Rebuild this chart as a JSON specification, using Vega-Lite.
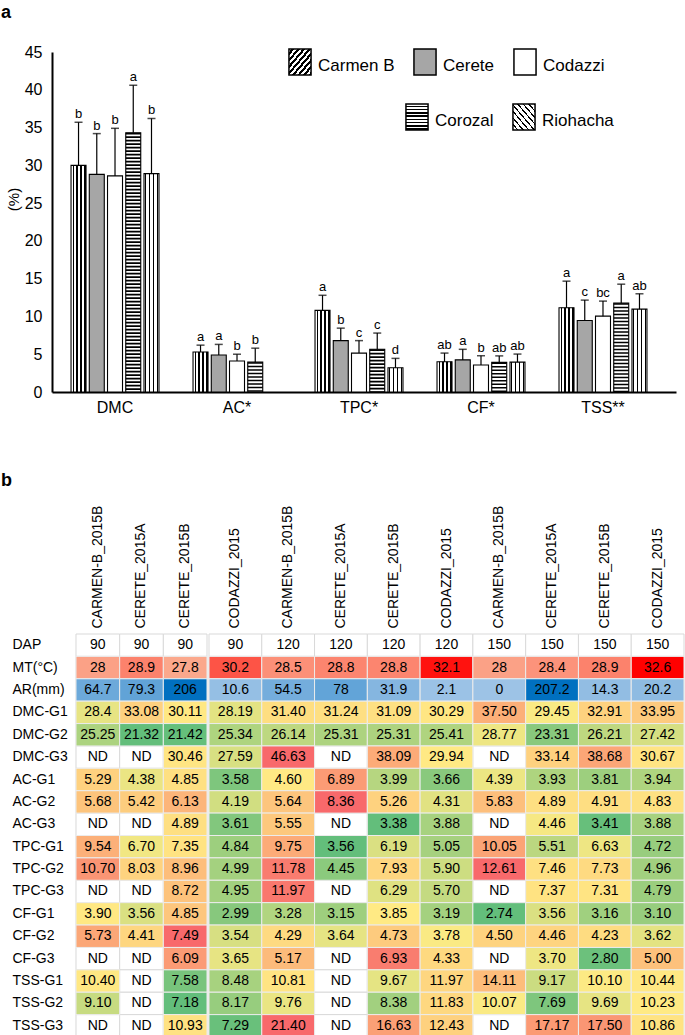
{
"$schema": "https://vega.github.io/schema/vega-lite/v6.json",
"padding": {"left": 1, "top": 4, "right": 0, "bottom": 0},
"spacing": 57,
"config": {"view": {"stroke": null}, "font": "Liberation Sans", "axis": {"labelFont": "Liberation Sans", "titleFont": "Liberation Sans"}, "legend": {"labelFont": "Liberation Sans"}, "title": {"font": "Liberation Sans", "color": "#000"}},
"datasets": {
"bars": [
{"g":"DMC","s":"Carmen B","m":30.0,"e":35.7,"l":"b"},
{"g":"DMC","s":"Cerete","m":28.8,"e":34.2,"l":"b"},
{"g":"DMC","s":"Codazzi","m":28.6,"e":34.9,"l":"b"},
{"g":"DMC","s":"Corozal","m":34.3,"e":40.6,"l":"a"},
{"g":"DMC","s":"Riohacha","m":28.9,"e":36.2,"l":"b"},
{"g":"AC*","s":"Carmen B","m":5.3,"e":6.2,"l":"a"},
{"g":"AC*","s":"Cerete","m":4.9,"e":6.3,"l":"a"},
{"g":"AC*","s":"Codazzi","m":4.1,"e":5.0,"l":"b"},
{"g":"AC*","s":"Corozal","m":3.95,"e":5.8,"l":"b"},
{"g":"TPC*","s":"Carmen B","m":10.8,"e":12.8,"l":"a"},
{"g":"TPC*","s":"Cerete","m":6.8,"e":8.45,"l":"b"},
{"g":"TPC*","s":"Codazzi","m":5.15,"e":6.8,"l":"c"},
{"g":"TPC*","s":"Corozal","m":5.65,"e":7.8,"l":"c"},
{"g":"TPC*","s":"Riohacha","m":3.2,"e":4.45,"l":"d"},
{"g":"CF*","s":"Carmen B","m":4.0,"e":5.15,"l":"ab"},
{"g":"CF*","s":"Cerete","m":4.25,"e":5.65,"l":"a"},
{"g":"CF*","s":"Codazzi","m":3.57,"e":4.8,"l":"b"},
{"g":"CF*","s":"Corozal","m":3.92,"e":4.78,"l":"ab"},
{"g":"CF*","s":"Riohacha","m":3.96,"e":5.02,"l":"ab"},
{"g":"TSS**","s":"Carmen B","m":11.15,"e":14.67,"l":"a"},
{"g":"TSS**","s":"Cerete","m":9.47,"e":12.16,"l":"c"},
{"g":"TSS**","s":"Codazzi","m":10.04,"e":12.03,"l":"bc"},
{"g":"TSS**","s":"Corozal","m":11.76,"e":14.27,"l":"a"},
{"g":"TSS**","s":"Riohacha","m":10.97,"e":13.0,"l":"ab"}
],
"cells": [
{"c":"CARMEN-B_2015B|90","r":"DAP","t":"90","v":90},
{"c":"CERETE_2015A|90","r":"DAP","t":"90","v":90},
{"c":"CERETE_2015B|90","r":"DAP","t":"90","v":90},
{"c":"CODAZZI_2015|90","r":"DAP","t":"90","v":90},
{"c":"CARMEN-B_2015B|120","r":"DAP","t":"120","v":120},
{"c":"CERETE_2015A|120","r":"DAP","t":"120","v":120},
{"c":"CERETE_2015B|120","r":"DAP","t":"120","v":120},
{"c":"CODAZZI_2015|120","r":"DAP","t":"120","v":120},
{"c":"CARMEN-B_2015B|150","r":"DAP","t":"150","v":150},
{"c":"CERETE_2015A|150","r":"DAP","t":"150","v":150},
{"c":"CERETE_2015B|150","r":"DAP","t":"150","v":150},
{"c":"CODAZZI_2015|150","r":"DAP","t":"150","v":150},
{"c":"CARMEN-B_2015B|90","r":"MT(°C)","t":"28","v":28},
{"c":"CERETE_2015A|90","r":"MT(°C)","t":"28.9","v":28.9},
{"c":"CERETE_2015B|90","r":"MT(°C)","t":"27.8","v":27.8},
{"c":"CODAZZI_2015|90","r":"MT(°C)","t":"30.2","v":30.2},
{"c":"CARMEN-B_2015B|120","r":"MT(°C)","t":"28.5","v":28.5},
{"c":"CERETE_2015A|120","r":"MT(°C)","t":"28.8","v":28.8},
{"c":"CERETE_2015B|120","r":"MT(°C)","t":"28.8","v":28.8},
{"c":"CODAZZI_2015|120","r":"MT(°C)","t":"32.1","v":32.1},
{"c":"CARMEN-B_2015B|150","r":"MT(°C)","t":"28","v":28},
{"c":"CERETE_2015A|150","r":"MT(°C)","t":"28.4","v":28.4},
{"c":"CERETE_2015B|150","r":"MT(°C)","t":"28.9","v":28.9},
{"c":"CODAZZI_2015|150","r":"MT(°C)","t":"32.6","v":32.6},
{"c":"CARMEN-B_2015B|90","r":"AR(mm)","t":"64.7","v":64.7},
{"c":"CERETE_2015A|90","r":"AR(mm)","t":"79.3","v":79.3},
{"c":"CERETE_2015B|90","r":"AR(mm)","t":"206","v":206},
{"c":"CODAZZI_2015|90","r":"AR(mm)","t":"10.6","v":10.6},
{"c":"CARMEN-B_2015B|120","r":"AR(mm)","t":"54.5","v":54.5},
{"c":"CERETE_2015A|120","r":"AR(mm)","t":"78","v":78},
{"c":"CERETE_2015B|120","r":"AR(mm)","t":"31.9","v":31.9},
{"c":"CODAZZI_2015|120","r":"AR(mm)","t":"2.1","v":2.1},
{"c":"CARMEN-B_2015B|150","r":"AR(mm)","t":"0","v":0},
{"c":"CERETE_2015A|150","r":"AR(mm)","t":"207.2","v":207.2},
{"c":"CERETE_2015B|150","r":"AR(mm)","t":"14.3","v":14.3},
{"c":"CODAZZI_2015|150","r":"AR(mm)","t":"20.2","v":20.2},
{"c":"CARMEN-B_2015B|90","r":"DMC-G1","t":"28.4","v":28.4},
{"c":"CERETE_2015A|90","r":"DMC-G1","t":"33.08","v":33.08},
{"c":"CERETE_2015B|90","r":"DMC-G1","t":"30.11","v":30.11},
{"c":"CODAZZI_2015|90","r":"DMC-G1","t":"28.19","v":28.19},
{"c":"CARMEN-B_2015B|120","r":"DMC-G1","t":"31.40","v":31.40},
{"c":"CERETE_2015A|120","r":"DMC-G1","t":"31.24","v":31.24},
{"c":"CERETE_2015B|120","r":"DMC-G1","t":"31.09","v":31.09},
{"c":"CODAZZI_2015|120","r":"DMC-G1","t":"30.29","v":30.29},
{"c":"CARMEN-B_2015B|150","r":"DMC-G1","t":"37.50","v":37.50},
{"c":"CERETE_2015A|150","r":"DMC-G1","t":"29.45","v":29.45},
{"c":"CERETE_2015B|150","r":"DMC-G1","t":"32.91","v":32.91},
{"c":"CODAZZI_2015|150","r":"DMC-G1","t":"33.95","v":33.95},
{"c":"CARMEN-B_2015B|90","r":"DMC-G2","t":"25.25","v":25.25},
{"c":"CERETE_2015A|90","r":"DMC-G2","t":"21.32","v":21.32},
{"c":"CERETE_2015B|90","r":"DMC-G2","t":"21.42","v":21.42},
{"c":"CODAZZI_2015|90","r":"DMC-G2","t":"25.34","v":25.34},
{"c":"CARMEN-B_2015B|120","r":"DMC-G2","t":"26.14","v":26.14},
{"c":"CERETE_2015A|120","r":"DMC-G2","t":"25.31","v":25.31},
{"c":"CERETE_2015B|120","r":"DMC-G2","t":"25.31","v":25.31},
{"c":"CODAZZI_2015|120","r":"DMC-G2","t":"25.41","v":25.41},
{"c":"CARMEN-B_2015B|150","r":"DMC-G2","t":"28.77","v":28.77},
{"c":"CERETE_2015A|150","r":"DMC-G2","t":"23.31","v":23.31},
{"c":"CERETE_2015B|150","r":"DMC-G2","t":"26.21","v":26.21},
{"c":"CODAZZI_2015|150","r":"DMC-G2","t":"27.42","v":27.42},
{"c":"CARMEN-B_2015B|90","r":"DMC-G3","t":"ND","v":null},
{"c":"CERETE_2015A|90","r":"DMC-G3","t":"ND","v":null},
{"c":"CERETE_2015B|90","r":"DMC-G3","t":"30.46","v":30.46},
{"c":"CODAZZI_2015|90","r":"DMC-G3","t":"27.59","v":27.59},
{"c":"CARMEN-B_2015B|120","r":"DMC-G3","t":"46.63","v":46.63},
{"c":"CERETE_2015A|120","r":"DMC-G3","t":"ND","v":null},
{"c":"CERETE_2015B|120","r":"DMC-G3","t":"38.09","v":38.09},
{"c":"CODAZZI_2015|120","r":"DMC-G3","t":"29.94","v":29.94},
{"c":"CARMEN-B_2015B|150","r":"DMC-G3","t":"ND","v":null},
{"c":"CERETE_2015A|150","r":"DMC-G3","t":"33.14","v":33.14},
{"c":"CERETE_2015B|150","r":"DMC-G3","t":"38.68","v":38.68},
{"c":"CODAZZI_2015|150","r":"DMC-G3","t":"30.67","v":30.67},
{"c":"CARMEN-B_2015B|90","r":"AC-G1","t":"5.29","v":5.29},
{"c":"CERETE_2015A|90","r":"AC-G1","t":"4.38","v":4.38},
{"c":"CERETE_2015B|90","r":"AC-G1","t":"4.85","v":4.85},
{"c":"CODAZZI_2015|90","r":"AC-G1","t":"3.58","v":3.58},
{"c":"CARMEN-B_2015B|120","r":"AC-G1","t":"4.60","v":4.60},
{"c":"CERETE_2015A|120","r":"AC-G1","t":"6.89","v":6.89},
{"c":"CERETE_2015B|120","r":"AC-G1","t":"3.99","v":3.99},
{"c":"CODAZZI_2015|120","r":"AC-G1","t":"3.66","v":3.66},
{"c":"CARMEN-B_2015B|150","r":"AC-G1","t":"4.39","v":4.39},
{"c":"CERETE_2015A|150","r":"AC-G1","t":"3.93","v":3.93},
{"c":"CERETE_2015B|150","r":"AC-G1","t":"3.81","v":3.81},
{"c":"CODAZZI_2015|150","r":"AC-G1","t":"3.94","v":3.94},
{"c":"CARMEN-B_2015B|90","r":"AC-G2","t":"5.68","v":5.68},
{"c":"CERETE_2015A|90","r":"AC-G2","t":"5.42","v":5.42},
{"c":"CERETE_2015B|90","r":"AC-G2","t":"6.13","v":6.13},
{"c":"CODAZZI_2015|90","r":"AC-G2","t":"4.19","v":4.19},
{"c":"CARMEN-B_2015B|120","r":"AC-G2","t":"5.64","v":5.64},
{"c":"CERETE_2015A|120","r":"AC-G2","t":"8.36","v":8.36},
{"c":"CERETE_2015B|120","r":"AC-G2","t":"5.26","v":5.26},
{"c":"CODAZZI_2015|120","r":"AC-G2","t":"4.31","v":4.31},
{"c":"CARMEN-B_2015B|150","r":"AC-G2","t":"5.83","v":5.83},
{"c":"CERETE_2015A|150","r":"AC-G2","t":"4.89","v":4.89},
{"c":"CERETE_2015B|150","r":"AC-G2","t":"4.91","v":4.91},
{"c":"CODAZZI_2015|150","r":"AC-G2","t":"4.83","v":4.83},
{"c":"CARMEN-B_2015B|90","r":"AC-G3","t":"ND","v":null},
{"c":"CERETE_2015A|90","r":"AC-G3","t":"ND","v":null},
{"c":"CERETE_2015B|90","r":"AC-G3","t":"4.89","v":4.89},
{"c":"CODAZZI_2015|90","r":"AC-G3","t":"3.61","v":3.61},
{"c":"CARMEN-B_2015B|120","r":"AC-G3","t":"5.55","v":5.55},
{"c":"CERETE_2015A|120","r":"AC-G3","t":"ND","v":null},
{"c":"CERETE_2015B|120","r":"AC-G3","t":"3.38","v":3.38},
{"c":"CODAZZI_2015|120","r":"AC-G3","t":"3.88","v":3.88},
{"c":"CARMEN-B_2015B|150","r":"AC-G3","t":"ND","v":null},
{"c":"CERETE_2015A|150","r":"AC-G3","t":"4.46","v":4.46},
{"c":"CERETE_2015B|150","r":"AC-G3","t":"3.41","v":3.41},
{"c":"CODAZZI_2015|150","r":"AC-G3","t":"3.88","v":3.88},
{"c":"CARMEN-B_2015B|90","r":"TPC-G1","t":"9.54","v":9.54},
{"c":"CERETE_2015A|90","r":"TPC-G1","t":"6.70","v":6.70},
{"c":"CERETE_2015B|90","r":"TPC-G1","t":"7.35","v":7.35},
{"c":"CODAZZI_2015|90","r":"TPC-G1","t":"4.84","v":4.84},
{"c":"CARMEN-B_2015B|120","r":"TPC-G1","t":"9.75","v":9.75},
{"c":"CERETE_2015A|120","r":"TPC-G1","t":"3.56","v":3.56},
{"c":"CERETE_2015B|120","r":"TPC-G1","t":"6.19","v":6.19},
{"c":"CODAZZI_2015|120","r":"TPC-G1","t":"5.05","v":5.05},
{"c":"CARMEN-B_2015B|150","r":"TPC-G1","t":"10.05","v":10.05},
{"c":"CERETE_2015A|150","r":"TPC-G1","t":"5.51","v":5.51},
{"c":"CERETE_2015B|150","r":"TPC-G1","t":"6.63","v":6.63},
{"c":"CODAZZI_2015|150","r":"TPC-G1","t":"4.72","v":4.72},
{"c":"CARMEN-B_2015B|90","r":"TPC-G2","t":"10.70","v":10.70},
{"c":"CERETE_2015A|90","r":"TPC-G2","t":"8.03","v":8.03},
{"c":"CERETE_2015B|90","r":"TPC-G2","t":"8.96","v":8.96},
{"c":"CODAZZI_2015|90","r":"TPC-G2","t":"4.99","v":4.99},
{"c":"CARMEN-B_2015B|120","r":"TPC-G2","t":"11.78","v":11.78},
{"c":"CERETE_2015A|120","r":"TPC-G2","t":"4.45","v":4.45},
{"c":"CERETE_2015B|120","r":"TPC-G2","t":"7.93","v":7.93},
{"c":"CODAZZI_2015|120","r":"TPC-G2","t":"5.90","v":5.90},
{"c":"CARMEN-B_2015B|150","r":"TPC-G2","t":"12.61","v":12.61},
{"c":"CERETE_2015A|150","r":"TPC-G2","t":"7.46","v":7.46},
{"c":"CERETE_2015B|150","r":"TPC-G2","t":"7.73","v":7.73},
{"c":"CODAZZI_2015|150","r":"TPC-G2","t":"4.96","v":4.96},
{"c":"CARMEN-B_2015B|90","r":"TPC-G3","t":"ND","v":null},
{"c":"CERETE_2015A|90","r":"TPC-G3","t":"ND","v":null},
{"c":"CERETE_2015B|90","r":"TPC-G3","t":"8.72","v":8.72},
{"c":"CODAZZI_2015|90","r":"TPC-G3","t":"4.95","v":4.95},
{"c":"CARMEN-B_2015B|120","r":"TPC-G3","t":"11.97","v":11.97},
{"c":"CERETE_2015A|120","r":"TPC-G3","t":"ND","v":null},
{"c":"CERETE_2015B|120","r":"TPC-G3","t":"6.29","v":6.29},
{"c":"CODAZZI_2015|120","r":"TPC-G3","t":"5.70","v":5.70},
{"c":"CARMEN-B_2015B|150","r":"TPC-G3","t":"ND","v":null},
{"c":"CERETE_2015A|150","r":"TPC-G3","t":"7.37","v":7.37},
{"c":"CERETE_2015B|150","r":"TPC-G3","t":"7.31","v":7.31},
{"c":"CODAZZI_2015|150","r":"TPC-G3","t":"4.79","v":4.79},
{"c":"CARMEN-B_2015B|90","r":"CF-G1","t":"3.90","v":3.90},
{"c":"CERETE_2015A|90","r":"CF-G1","t":"3.56","v":3.56},
{"c":"CERETE_2015B|90","r":"CF-G1","t":"4.85","v":4.85},
{"c":"CODAZZI_2015|90","r":"CF-G1","t":"2.99","v":2.99},
{"c":"CARMEN-B_2015B|120","r":"CF-G1","t":"3.28","v":3.28},
{"c":"CERETE_2015A|120","r":"CF-G1","t":"3.15","v":3.15},
{"c":"CERETE_2015B|120","r":"CF-G1","t":"3.85","v":3.85},
{"c":"CODAZZI_2015|120","r":"CF-G1","t":"3.19","v":3.19},
{"c":"CARMEN-B_2015B|150","r":"CF-G1","t":"2.74","v":2.74},
{"c":"CERETE_2015A|150","r":"CF-G1","t":"3.56","v":3.56},
{"c":"CERETE_2015B|150","r":"CF-G1","t":"3.16","v":3.16},
{"c":"CODAZZI_2015|150","r":"CF-G1","t":"3.10","v":3.10},
{"c":"CARMEN-B_2015B|90","r":"CF-G2","t":"5.73","v":5.73},
{"c":"CERETE_2015A|90","r":"CF-G2","t":"4.41","v":4.41},
{"c":"CERETE_2015B|90","r":"CF-G2","t":"7.49","v":7.49},
{"c":"CODAZZI_2015|90","r":"CF-G2","t":"3.54","v":3.54},
{"c":"CARMEN-B_2015B|120","r":"CF-G2","t":"4.29","v":4.29},
{"c":"CERETE_2015A|120","r":"CF-G2","t":"3.64","v":3.64},
{"c":"CERETE_2015B|120","r":"CF-G2","t":"4.73","v":4.73},
{"c":"CODAZZI_2015|120","r":"CF-G2","t":"3.78","v":3.78},
{"c":"CARMEN-B_2015B|150","r":"CF-G2","t":"4.50","v":4.50},
{"c":"CERETE_2015A|150","r":"CF-G2","t":"4.46","v":4.46},
{"c":"CERETE_2015B|150","r":"CF-G2","t":"4.23","v":4.23},
{"c":"CODAZZI_2015|150","r":"CF-G2","t":"3.62","v":3.62},
{"c":"CARMEN-B_2015B|90","r":"CF-G3","t":"ND","v":null},
{"c":"CERETE_2015A|90","r":"CF-G3","t":"ND","v":null},
{"c":"CERETE_2015B|90","r":"CF-G3","t":"6.09","v":6.09},
{"c":"CODAZZI_2015|90","r":"CF-G3","t":"3.65","v":3.65},
{"c":"CARMEN-B_2015B|120","r":"CF-G3","t":"5.17","v":5.17},
{"c":"CERETE_2015A|120","r":"CF-G3","t":"ND","v":null},
{"c":"CERETE_2015B|120","r":"CF-G3","t":"6.93","v":6.93},
{"c":"CODAZZI_2015|120","r":"CF-G3","t":"4.33","v":4.33},
{"c":"CARMEN-B_2015B|150","r":"CF-G3","t":"ND","v":null},
{"c":"CERETE_2015A|150","r":"CF-G3","t":"3.70","v":3.70},
{"c":"CERETE_2015B|150","r":"CF-G3","t":"2.80","v":2.80},
{"c":"CODAZZI_2015|150","r":"CF-G3","t":"5.00","v":5.00},
{"c":"CARMEN-B_2015B|90","r":"TSS-G1","t":"10.40","v":10.40},
{"c":"CERETE_2015A|90","r":"TSS-G1","t":"ND","v":null},
{"c":"CERETE_2015B|90","r":"TSS-G1","t":"7.58","v":7.58},
{"c":"CODAZZI_2015|90","r":"TSS-G1","t":"8.48","v":8.48},
{"c":"CARMEN-B_2015B|120","r":"TSS-G1","t":"10.81","v":10.81},
{"c":"CERETE_2015A|120","r":"TSS-G1","t":"ND","v":null},
{"c":"CERETE_2015B|120","r":"TSS-G1","t":"9.67","v":9.67},
{"c":"CODAZZI_2015|120","r":"TSS-G1","t":"11.97","v":11.97},
{"c":"CARMEN-B_2015B|150","r":"TSS-G1","t":"14.11","v":14.11},
{"c":"CERETE_2015A|150","r":"TSS-G1","t":"9.17","v":9.17},
{"c":"CERETE_2015B|150","r":"TSS-G1","t":"10.10","v":10.10},
{"c":"CODAZZI_2015|150","r":"TSS-G1","t":"10.44","v":10.44},
{"c":"CARMEN-B_2015B|90","r":"TSS-G2","t":"9.10","v":9.10},
{"c":"CERETE_2015A|90","r":"TSS-G2","t":"ND","v":null},
{"c":"CERETE_2015B|90","r":"TSS-G2","t":"7.18","v":7.18},
{"c":"CODAZZI_2015|90","r":"TSS-G2","t":"8.17","v":8.17},
{"c":"CARMEN-B_2015B|120","r":"TSS-G2","t":"9.76","v":9.76},
{"c":"CERETE_2015A|120","r":"TSS-G2","t":"ND","v":null},
{"c":"CERETE_2015B|120","r":"TSS-G2","t":"8.38","v":8.38},
{"c":"CODAZZI_2015|120","r":"TSS-G2","t":"11.83","v":11.83},
{"c":"CARMEN-B_2015B|150","r":"TSS-G2","t":"10.07","v":10.07},
{"c":"CERETE_2015A|150","r":"TSS-G2","t":"7.69","v":7.69},
{"c":"CERETE_2015B|150","r":"TSS-G2","t":"9.69","v":9.69},
{"c":"CODAZZI_2015|150","r":"TSS-G2","t":"10.23","v":10.23},
{"c":"CARMEN-B_2015B|90","r":"TSS-G3","t":"ND","v":null},
{"c":"CERETE_2015A|90","r":"TSS-G3","t":"ND","v":null},
{"c":"CERETE_2015B|90","r":"TSS-G3","t":"10.93","v":10.93},
{"c":"CODAZZI_2015|90","r":"TSS-G3","t":"7.29","v":7.29},
{"c":"CARMEN-B_2015B|120","r":"TSS-G3","t":"21.40","v":21.40},
{"c":"CERETE_2015A|120","r":"TSS-G3","t":"ND","v":null},
{"c":"CERETE_2015B|120","r":"TSS-G3","t":"16.63","v":16.63},
{"c":"CODAZZI_2015|120","r":"TSS-G3","t":"12.43","v":12.43},
{"c":"CARMEN-B_2015B|150","r":"TSS-G3","t":"ND","v":null},
{"c":"CERETE_2015A|150","r":"TSS-G3","t":"17.17","v":17.17},
{"c":"CERETE_2015B|150","r":"TSS-G3","t":"17.50","v":17.50},
{"c":"CODAZZI_2015|150","r":"TSS-G3","t":"10.86","v":10.86}
]
},
"vconcat": [
{
"width": 624, "height": 340,
"title": {"text": "a", "anchor": "start", "fontSize": 18, "fontWeight": "bold", "offset": 22, "dx": -5},
"data": {"name": "bars"},
"encoding": {
"x": {"field": "g", "type": "nominal", "sort": null, "scale": {"paddingInner": 0.279, "paddingOuter": 0.197, "align": 0.396}, "axis": {"title": null, "labelAngle": 0, "labelFontSize": 16, "labelColor": "#000", "ticks": false, "tickSize": 0, "domainColor": "#000", "domainWidth": 2, "labelPadding": 7}},
"xOffset": {"field": "s", "type": "nominal", "scale": {"domain": ["Carmen B", "Cerete", "Codazzi", "Corozal", "Riohacha"], "paddingInner": 0.178, "paddingOuter": 0}},
"y": {"field": "m", "type": "quantitative", "title": "(%)", "scale": {"domain": [0, 45], "nice": false}, "axis": {"values": [0,5,10,15,20,25,30,35,40,45], "grid": false, "ticks": false, "tickSize": 0, "domainColor": "#000", "domainWidth": 2, "labelFontSize": 16, "labelColor": "#000", "labelPadding": 10, "titleFontSize": 15, "titleFontWeight": "normal", "titleColor": "#000", "titleX": -39, "titleY": 147, "titleBaseline": "middle", "titleAlign": "center", "titleAngle": -90}}
},
"layer": [
{"mark": {"type": "bar", "strokeWidth": 0},
 "encoding": {"fill": {"field": "s", "type": "nominal", "scale": {"domain": ["Carmen B", "Cerete", "Codazzi", "Corozal", "Riohacha"], "range": [
   {"expr": "{gradient:'linear',x1:0,y1:0,x2:1,y2:1,stops:[{offset:0,color:'#fff'},{offset:0.0625,color:'#fff'},{offset:0.0625,color:'#000'},{offset:0.125,color:'#000'},{offset:0.125,color:'#fff'},{offset:0.1875,color:'#fff'},{offset:0.1875,color:'#000'},{offset:0.25,color:'#000'},{offset:0.25,color:'#fff'},{offset:0.3125,color:'#fff'},{offset:0.3125,color:'#000'},{offset:0.375,color:'#000'},{offset:0.375,color:'#fff'},{offset:0.4375,color:'#fff'},{offset:0.4375,color:'#000'},{offset:0.5,color:'#000'},{offset:0.5,color:'#fff'},{offset:0.5625,color:'#fff'},{offset:0.5625,color:'#000'},{offset:0.625,color:'#000'},{offset:0.625,color:'#fff'},{offset:0.6875,color:'#fff'},{offset:0.6875,color:'#000'},{offset:0.75,color:'#000'},{offset:0.75,color:'#fff'},{offset:0.8125,color:'#fff'},{offset:0.8125,color:'#000'},{offset:0.875,color:'#000'},{offset:0.875,color:'#fff'},{offset:0.9375,color:'#fff'},{offset:0.9375,color:'#000'},{offset:1,color:'#000'}]}"},
   "#a6a6a6", "#ffffff", "#ffffff", "#ffffff"]},
  "legend": {"title": null, "orient": "none", "legendX": 234, "legendY": -4, "direction": "horizontal", "columns": 3, "values": ["Carmen B", "Cerete", "Codazzi"], "symbolType": "M-0.85,-1H0.85V1H-0.85Z", "symbolSize": 676, "symbolStrokeColor": "#000", "symbolStrokeWidth": 1.5, "labelFontSize": 17, "labelColor": "#000", "labelOffset": 4, "columnPadding": 15, "gridAlign": "each", "padding": 0,
   "encode": {"labels": {"update": {"dy": {"value": 4}}}, "symbols": {"update": {"stroke": {"value": "#000"}, "strokeWidth": {"value": 1.5}}}}}}}},
{"mark": {"type": "bar", "strokeWidth": 0},
 "encoding": {"fill": {"field": "s", "type": "nominal", "scale": {"domain": ["Carmen B", "Cerete", "Codazzi", "Corozal", "Riohacha"], "range": [
   "#ffffff", "#a6a6a6", "#ffffff",
   {"expr": "{gradient:'linear',x1:0,y1:0,x2:0,y2:1,stops:[{offset:0,color:'#fff'},{offset:0.0625,color:'#fff'},{offset:0.0625,color:'#000'},{offset:0.125,color:'#000'},{offset:0.125,color:'#fff'},{offset:0.1875,color:'#fff'},{offset:0.1875,color:'#000'},{offset:0.25,color:'#000'},{offset:0.25,color:'#fff'},{offset:0.3125,color:'#fff'},{offset:0.3125,color:'#000'},{offset:0.375,color:'#000'},{offset:0.375,color:'#fff'},{offset:0.4375,color:'#fff'},{offset:0.4375,color:'#000'},{offset:0.5,color:'#000'},{offset:0.5,color:'#fff'},{offset:0.5625,color:'#fff'},{offset:0.5625,color:'#000'},{offset:0.625,color:'#000'},{offset:0.625,color:'#fff'},{offset:0.6875,color:'#fff'},{offset:0.6875,color:'#000'},{offset:0.75,color:'#000'},{offset:0.75,color:'#fff'},{offset:0.8125,color:'#fff'},{offset:0.8125,color:'#000'},{offset:0.875,color:'#000'},{offset:0.875,color:'#fff'},{offset:0.9375,color:'#fff'},{offset:0.9375,color:'#000'},{offset:1,color:'#000'}]}"},
   {"expr": "{gradient:'linear',x1:0,y1:1,x2:1,y2:0,stops:[{offset:0,color:'#fff'},{offset:0.09,color:'#fff'},{offset:0.09,color:'#000'},{offset:0.125,color:'#000'},{offset:0.125,color:'#fff'},{offset:0.215,color:'#fff'},{offset:0.215,color:'#000'},{offset:0.25,color:'#000'},{offset:0.25,color:'#fff'},{offset:0.34,color:'#fff'},{offset:0.34,color:'#000'},{offset:0.375,color:'#000'},{offset:0.375,color:'#fff'},{offset:0.465,color:'#fff'},{offset:0.465,color:'#000'},{offset:0.5,color:'#000'},{offset:0.5,color:'#fff'},{offset:0.59,color:'#fff'},{offset:0.59,color:'#000'},{offset:0.625,color:'#000'},{offset:0.625,color:'#fff'},{offset:0.715,color:'#fff'},{offset:0.715,color:'#000'},{offset:0.75,color:'#000'},{offset:0.75,color:'#fff'},{offset:0.84,color:'#fff'},{offset:0.84,color:'#000'},{offset:0.875,color:'#000'},{offset:0.875,color:'#fff'},{offset:0.965,color:'#fff'},{offset:0.965,color:'#000'},{offset:1,color:'#000'}]}"}]},
  "legend": {"title": null, "orient": "none", "legendX": 351, "legendY": 51, "direction": "horizontal", "columns": 2, "values": ["Corozal", "Riohacha"], "symbolType": "M-0.85,-1H0.85V1H-0.85Z", "symbolSize": 676, "symbolStrokeColor": "#000", "symbolStrokeWidth": 1.5, "labelFontSize": 17, "labelColor": "#000", "labelOffset": 4, "columnPadding": 15, "gridAlign": "each", "padding": 0,
   "encode": {"labels": {"update": {"dy": {"value": 4}}}, "symbols": {"update": {"stroke": {"value": "#000"}, "strokeWidth": {"value": 1.5}}}}}}}},
{"transform": [{"filter": "datum.s === 'Carmen B'"}],
 "mark": {"type": "bar", "strokeWidth": 0, "fill": {"gradient": "linear", "x1": 0, "y1": 0, "x2": 1, "y2": 0, "stops": [{"offset":0,"color":"#fff"},{"offset":0.1,"color":"#fff"},{"offset":0.1,"color":"#000"},{"offset":0.225,"color":"#000"},{"offset":0.225,"color":"#fff"},{"offset":0.35,"color":"#fff"},{"offset":0.35,"color":"#000"},{"offset":0.475,"color":"#000"},{"offset":0.475,"color":"#fff"},{"offset":0.6,"color":"#fff"},{"offset":0.6,"color":"#000"},{"offset":0.725,"color":"#000"},{"offset":0.725,"color":"#fff"},{"offset":0.85,"color":"#fff"},{"offset":0.85,"color":"#000"},{"offset":0.975,"color":"#000"},{"offset":0.975,"color":"#fff"},{"offset":1,"color":"#fff"}]}}},
{"transform": [{"filter": "datum.s === 'Riohacha'"}],
 "mark": {"type": "bar", "strokeWidth": 0, "fill": {"gradient": "linear", "x1": 0, "y1": 0, "x2": 1, "y2": 0, "stops": [{"offset":0,"color":"#fff"},{"offset":0.09,"color":"#fff"},{"offset":0.09,"color":"#000"},{"offset":0.16,"color":"#000"},{"offset":0.16,"color":"#fff"},{"offset":0.34,"color":"#fff"},{"offset":0.34,"color":"#000"},{"offset":0.41,"color":"#000"},{"offset":0.41,"color":"#fff"},{"offset":0.59,"color":"#fff"},{"offset":0.59,"color":"#000"},{"offset":0.66,"color":"#000"},{"offset":0.66,"color":"#fff"},{"offset":0.84,"color":"#fff"},{"offset":0.84,"color":"#000"},{"offset":0.91,"color":"#000"},{"offset":0.91,"color":"#fff"},{"offset":1,"color":"#fff"}]}}},
{"transform": [{"filter": "datum.s === 'Corozal'"}],
 "mark": {"type": "bar", "strokeWidth": 0, "fill": "#ffffff"}},
{"transform": [{"filter": "datum.s === 'Corozal'"}],
 "mark": {"type": "rule", "color": "#000", "strokeWidth": 15, "strokeDash": [1.7, 1.8]},
 "encoding": {"y2": {"datum": 0}}},
{"mark": {"type": "bar", "stroke": "#000", "strokeWidth": 1.1, "fill": "transparent"}},
{"mark": {"type": "rule", "color": "#000", "strokeWidth": 1.2},
 "encoding": {"y2": {"field": "e"}}},
{"mark": {"type": "tick", "color": "#000", "thickness": 1.5, "size": 8},
 "encoding": {"y": {"field": "e", "type": "quantitative", "title": "(%)"}}},
{"mark": {"type": "text", "baseline": "alphabetic", "dy": -4, "fontSize": 13, "color": "#000"},
 "encoding": {"y": {"field": "e", "type": "quantitative", "title": "(%)"}, "text": {"field": "l", "type": "nominal"}}}
],
"resolve": {"scale": {"fill": "independent"}, "legend": {"fill": "independent"}}
},
{
"title": {"text": "b", "anchor": "start", "fontSize": 18, "fontWeight": "bold", "offset": 15, "dx": -11},
"spacing": 0,
"hconcat": [
{
"width": 155, "height": 403,
"data": {"name": "cells"},
"transform": [{"filter": {"field": "c", "oneOf": ["CARMEN-B_2015B|90", "CERETE_2015A|90", "CERETE_2015B|90"]}}],
"encoding": {
"x": {"field": "c", "type": "nominal", "sort": null, "scale": {"paddingInner": 0, "paddingOuter": 0.2748, "align": 1}, "axis": {"orient": "top", "title": null, "labelAngle": -90, "labelAlign": "left", "labelBaseline": "middle", "labelExpr": "split(datum.label, '|')[0]", "ticks": false, "tickSize": 0, "domain": false, "labelPadding": 6, "labelFontSize": 14, "labelColor": "#000"}},
"y": {"field": "r", "type": "nominal", "sort": null, "scale": {"paddingInner": 0, "paddingOuter": 0}, "axis": {"title": null, "orient": "left", "labelAlign": "left", "labelPadding": 40, "ticks": false, "tickSize": 0, "domain": false, "labelFontSize": 14, "labelColor": "#000"}}
},
"layer": [
{"mark": {"type": "rect", "fill": "#ffffff", "stroke": "#d9d9d9", "strokeWidth": 1}},
{"transform": [{"filter": "datum.r === 'MT(°C)'"}], "mark": {"type": "rect", "stroke": "#ececec", "strokeWidth": 1}, "encoding": {"color": {"field": "v", "type": "quantitative", "scale": {"domain": [27.8, 32.6], "range": ["#fba88c", "#ff0000"], "interpolate": "rgb"}, "legend": null}}},
{"transform": [{"filter": "datum.r === 'AR(mm)'"}], "mark": {"type": "rect", "stroke": "#ececec", "strokeWidth": 1}, "encoding": {"color": {"field": "v", "type": "quantitative", "scale": {"domain": [0, 207.2], "range": ["#9dc3e6", "#0070c0"], "interpolate": "rgb"}, "legend": null}}},
{"transform": [{"filter": "indexof(datum.r, 'DMC-') === 0 && isValid(datum.v)"}], "mark": {"type": "rect", "stroke": "#ececec", "strokeWidth": 1}, "encoding": {"color": {"field": "v", "type": "quantitative", "scale": {"domain": [21.32, 29.695, 46.63], "range": ["#63be7b", "#ffeb84", "#f8696b"], "interpolate": "rgb"}, "legend": null}}},
{"transform": [{"filter": "indexof(datum.r, 'AC-') === 0 && isValid(datum.v)"}], "mark": {"type": "rect", "stroke": "#ececec", "strokeWidth": 1}, "encoding": {"color": {"field": "v", "type": "quantitative", "scale": {"domain": [3.38, 4.53, 8.36], "range": ["#63be7b", "#ffeb84", "#f8696b"], "interpolate": "rgb"}, "legend": null}}},
{"transform": [{"filter": "indexof(datum.r, 'TPC-') === 0 && isValid(datum.v)"}], "mark": {"type": "rect", "stroke": "#ececec", "strokeWidth": 1}, "encoding": {"color": {"field": "v", "type": "quantitative", "scale": {"domain": [3.56, 7.005, 12.61], "range": ["#63be7b", "#ffeb84", "#f8696b"], "interpolate": "rgb"}, "legend": null}}},
{"transform": [{"filter": "indexof(datum.r, 'CF-') === 0 && isValid(datum.v)"}], "mark": {"type": "rect", "stroke": "#ececec", "strokeWidth": 1}, "encoding": {"color": {"field": "v", "type": "quantitative", "scale": {"domain": [2.74, 3.815, 7.49], "range": ["#63be7b", "#ffeb84", "#f8696b"], "interpolate": "rgb"}, "legend": null}}},
{"transform": [{"filter": "indexof(datum.r, 'TSS-') === 0 && isValid(datum.v)"}], "mark": {"type": "rect", "stroke": "#ececec", "strokeWidth": 1}, "encoding": {"color": {"field": "v", "type": "quantitative", "scale": {"domain": [7.18, 10.165, 21.4], "range": ["#63be7b", "#ffeb84", "#f8696b"], "interpolate": "rgb"}, "legend": null}}},
{"mark": {"type": "text", "fontSize": 14, "color": "#000"}, "encoding": {"text": {"field": "t", "type": "nominal"}}}
],
"resolve": {"scale": {"color": "independent"}}
},
{
"width": 475, "height": 403,
"data": {"name": "cells"},
"transform": [{"filter": {"not": {"field": "c", "oneOf": ["CARMEN-B_2015B|90", "CERETE_2015A|90", "CERETE_2015B|90"]}}}],
"encoding": {
"x": {"field": "c", "type": "nominal", "sort": null, "scale": {"paddingInner": 0, "paddingOuter": 0}, "axis": {"orient": "top", "title": null, "labelAngle": -90, "labelAlign": "left", "labelBaseline": "middle", "labelExpr": "split(datum.label, '|')[0]", "ticks": false, "tickSize": 0, "domain": false, "labelPadding": 6, "labelFontSize": 14, "labelColor": "#000"}},
"y": {"field": "r", "type": "nominal", "sort": null, "scale": {"paddingInner": 0, "paddingOuter": 0}, "axis": null}
},
"layer": [
{"mark": {"type": "rect", "fill": "#ffffff", "stroke": "#d9d9d9", "strokeWidth": 1}},
{"transform": [{"filter": "datum.r === 'MT(°C)'"}], "mark": {"type": "rect", "stroke": "#ececec", "strokeWidth": 1}, "encoding": {"color": {"field": "v", "type": "quantitative", "scale": {"domain": [27.8, 32.6], "range": ["#fba88c", "#ff0000"], "interpolate": "rgb"}, "legend": null}}},
{"transform": [{"filter": "datum.r === 'AR(mm)'"}], "mark": {"type": "rect", "stroke": "#ececec", "strokeWidth": 1}, "encoding": {"color": {"field": "v", "type": "quantitative", "scale": {"domain": [0, 207.2], "range": ["#9dc3e6", "#0070c0"], "interpolate": "rgb"}, "legend": null}}},
{"transform": [{"filter": "indexof(datum.r, 'DMC-') === 0 && isValid(datum.v)"}], "mark": {"type": "rect", "stroke": "#ececec", "strokeWidth": 1}, "encoding": {"color": {"field": "v", "type": "quantitative", "scale": {"domain": [21.32, 29.695, 46.63], "range": ["#63be7b", "#ffeb84", "#f8696b"], "interpolate": "rgb"}, "legend": null}}},
{"transform": [{"filter": "indexof(datum.r, 'AC-') === 0 && isValid(datum.v)"}], "mark": {"type": "rect", "stroke": "#ececec", "strokeWidth": 1}, "encoding": {"color": {"field": "v", "type": "quantitative", "scale": {"domain": [3.38, 4.53, 8.36], "range": ["#63be7b", "#ffeb84", "#f8696b"], "interpolate": "rgb"}, "legend": null}}},
{"transform": [{"filter": "indexof(datum.r, 'TPC-') === 0 && isValid(datum.v)"}], "mark": {"type": "rect", "stroke": "#ececec", "strokeWidth": 1}, "encoding": {"color": {"field": "v", "type": "quantitative", "scale": {"domain": [3.56, 7.005, 12.61], "range": ["#63be7b", "#ffeb84", "#f8696b"], "interpolate": "rgb"}, "legend": null}}},
{"transform": [{"filter": "indexof(datum.r, 'CF-') === 0 && isValid(datum.v)"}], "mark": {"type": "rect", "stroke": "#ececec", "strokeWidth": 1}, "encoding": {"color": {"field": "v", "type": "quantitative", "scale": {"domain": [2.74, 3.815, 7.49], "range": ["#63be7b", "#ffeb84", "#f8696b"], "interpolate": "rgb"}, "legend": null}}},
{"transform": [{"filter": "indexof(datum.r, 'TSS-') === 0 && isValid(datum.v)"}], "mark": {"type": "rect", "stroke": "#ececec", "strokeWidth": 1}, "encoding": {"color": {"field": "v", "type": "quantitative", "scale": {"domain": [7.18, 10.165, 21.4], "range": ["#63be7b", "#ffeb84", "#f8696b"], "interpolate": "rgb"}, "legend": null}}},
{"mark": {"type": "text", "fontSize": 14, "color": "#000"}, "encoding": {"text": {"field": "t", "type": "nominal"}}}
],
"resolve": {"scale": {"color": "independent"}}
}
]
}
]
}
